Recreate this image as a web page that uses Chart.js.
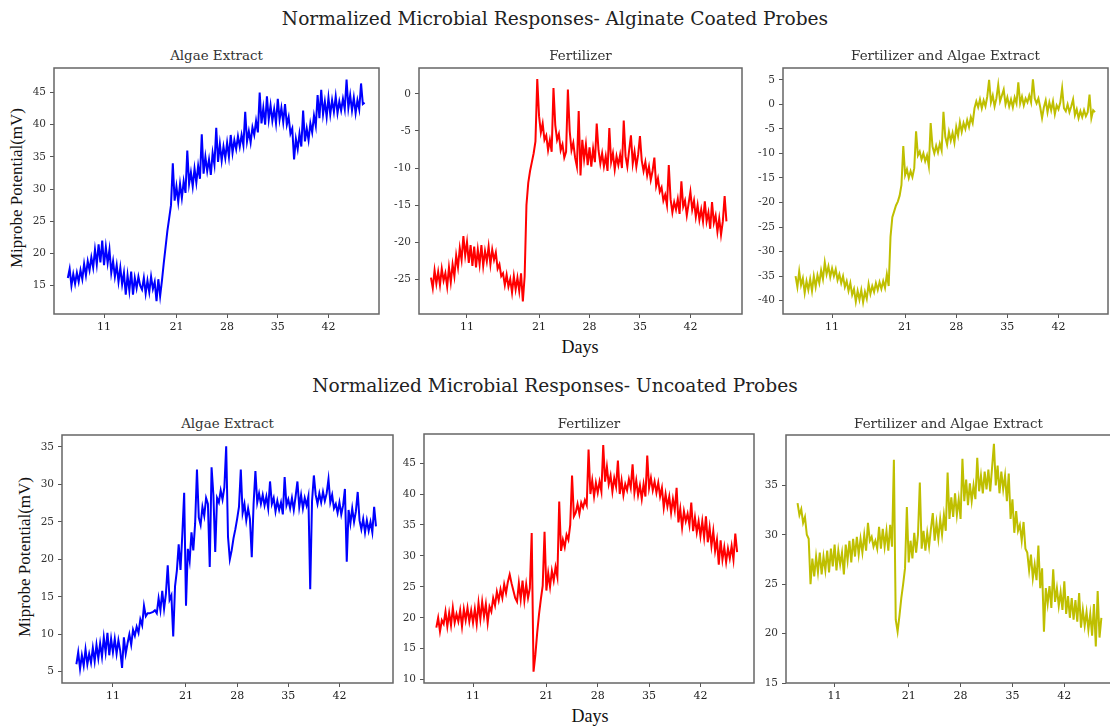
<!DOCTYPE html>
<html>
<head>
<meta charset="utf-8">
<title>Normalized Microbial Responses</title>
<script src="https://cdn.jsdelivr.net/npm/chart.js@4.4.1/dist/chart.umd.min.js"></script>
<style>
  body { margin: 0; background: #fff; overflow: hidden; }
  #page { position: relative; width: 1110px; height: 728px; overflow: hidden; background: #fff; }
  canvas { position: absolute; }
  .txt { position: absolute; transform: translate(-50%, -50%); white-space: nowrap; line-height: 1; color: #222; }
  .fig-title { font: 18.6px 'DejaVu Serif'; }
  .sub-title { font: 13.4px 'DejaVu Serif'; color: #333; }
  .axis-label { font: 18px 'Liberation Serif'; color: #111; }
  .ylab { font-size: 17px; transform: translate(-50%, -50%) rotate(-90deg); }
</style>
</head>
<body>
<div id="page">
  <div class="txt fig-title" style="left:555px;top:18px">Normalized Microbial Responses- Alginate Coated Probes</div>
  <div class="txt fig-title" style="left:555px;top:385px">Normalized Microbial Responses- Uncoated Probes</div>
  <div class="txt axis-label" style="left:580px;top:347px">Days</div>
  <div class="txt axis-label" style="left:590px;top:716px">Days</div>
  <div class="txt axis-label ylab" style="left:17px;top:188px">Miprobe Potential(mV)</div>
  <div class="txt axis-label ylab" style="left:25px;top:557px">Miprobe Potential(mV)</div>
</div>
<script>
//Sampling grid (days), 4 readings per day
const START_DAY = 6
const STEP = 0.25

//Tick labels
const dayTicks = [11, 21, 28, 35, 42]
const coatedAlgaeTicks = [15, 20, 25, 30, 35, 40, 45]
const coatedFertTicks = [-25, -20, -15, -10, -5, 0]
const coatedMixTicks = [-40, -35, -30, -25, -20, -15, -10, -5, 0, 5]
const uncoatedAlgaeTicks = [5, 10, 15, 20, 25, 30, 35]
const uncoatedFertTicks = [10, 15, 20, 25, 30, 35, 40, 45]
const uncoatedMixTicks = [15, 20, 25, 30, 35]

//Series (mV)
const coatedAlgae = [
  16.2, 17.6, 15.0, 16.8, 15.3, 17.0, 15.6, 17.4, 16.0, 18.4, 16.6, 18.8, 17.4, 19.4, 17.8, 20.6,
  18.3, 21.4, 18.6, 22.0, 18.2, 21.0, 18.5, 20.6, 17.0, 18.8, 16.4, 18.2, 15.6, 17.8, 15.2, 17.0,
  13.6, 16.6, 14.2, 17.2, 13.6, 16.2, 14.6, 16.4, 15.0, 14.4, 16.2, 13.8, 15.8, 14.0, 16.4, 14.5,
  15.6, 12.6, 16.0, 13.4, 15.8, 18.5, 21.0, 23.5, 25.5, 27.5, 34.0, 28.2, 30.4, 28.0, 30.8, 28.6,
  31.2, 29.4, 36.0, 30.8, 32.6, 30.4, 33.2, 31.0, 33.6, 31.6, 38.5, 32.4, 35.0, 32.8, 34.6, 32.2,
  35.6, 33.8, 39.5, 34.2, 37.0, 34.4, 36.6, 34.8, 37.2, 35.0, 38.4, 35.6, 37.6, 36.2, 38.2, 36.6,
  38.4, 36.8, 42.0, 37.4, 39.0, 37.2, 39.6, 38.4, 40.6, 38.8, 45.0, 40.2, 42.6, 40.0, 44.4, 40.8,
  43.0, 40.6, 42.4, 40.2, 44.0, 40.8, 42.6, 40.4, 43.2, 40.0, 41.2, 38.6, 39.4, 34.6, 37.8, 36.2,
  38.6, 36.6, 42.2, 37.4, 39.4, 37.6, 40.2, 38.8, 41.4, 39.8, 44.6, 41.0, 45.4, 41.6, 43.6, 41.2,
  44.2, 41.6, 43.8, 42.0, 44.4, 41.8, 43.6, 42.2, 44.0, 42.4, 47.0, 42.6, 44.6, 42.2, 44.2, 41.8,
  43.8, 42.4, 46.4, 43.2, 43.4
]
const coatedFert = [
  -24.8, -26.2, -23.8, -25.6, -24.0, -25.8, -23.6, -25.2, -24.2, -26.0, -23.4, -25.4, -23.0, -24.6, -21.8, -23.4,
  -20.8, -22.4, -19.2, -21.8, -20.0, -22.8, -20.4, -23.2, -20.6, -23.4, -21.0, -23.0, -20.4, -23.2, -21.2, -22.6,
  -20.6, -23.0, -21.0, -22.4, -21.4, -23.6, -23.0, -24.6, -24.2, -25.8, -24.4, -26.0, -25.0, -26.8, -24.6, -26.4,
  -24.8, -26.6, -24.2, -28.0, -24.6, -15.0, -12.0, -10.4, -9.2, -8.0, -6.4, 2.0, -3.0, -5.2, -4.0, -6.2,
  -5.6, -7.6, -6.2, -7.8, 0.8, -4.2, -6.2, -5.4, -7.6, -6.8, -8.6, -7.8, 0.6, -5.0, -7.6, -6.6,
  -8.6, -9.8, -2.3, -11.0, -6.2, -8.8, -6.8, -9.6, -7.2, -9.8, -7.4, -9.2, -4.0, -7.6, -9.4, -8.0,
  -9.8, -8.4, -10.4, -4.6, -9.2, -8.0, -10.2, -8.4, -9.6, -8.2, -10.0, -3.6, -8.4, -9.8, -7.6, -5.6,
  -9.4, -7.8, -9.8, -8.2, -5.7, -9.0, -10.4, -9.2, -11.0, -9.8, -11.6, -10.4, -8.6, -12.4, -11.4, -13.2,
  -12.6, -14.4, -13.6, -15.0, -9.6, -14.2, -16.0, -14.6, -15.6, -14.2, -16.2, -11.8, -15.2, -14.4, -16.4, -14.8,
  -13.2, -15.6, -14.4, -16.6, -15.0, -17.0, -15.6, -17.2, -14.5, -17.2, -16.0, -18.2, -14.6, -17.4, -16.4, -18.6,
  -16.8, -19.0, -17.2, -13.8, -17.2
]
const coatedMix = [
  -35.0, -37.2, -34.0, -36.8, -35.4, -38.4, -36.0, -37.8, -35.6, -38.0, -35.0, -37.2, -34.8, -36.4, -33.8, -35.6,
  -32.2, -34.6, -33.0, -35.2, -33.4, -35.0, -33.6, -35.8, -34.6, -36.4, -35.0, -37.2, -36.0, -38.0, -36.4, -38.8,
  -37.6, -40.2, -38.0, -39.8, -37.8, -40.3, -38.2, -39.6, -36.6, -38.6, -37.0, -38.2, -36.4, -37.8, -36.2, -37.6,
  -36.0, -37.4, -34.6, -37.0, -27.0, -23.0, -21.8, -20.6, -19.8, -18.6, -16.4, -8.5, -14.4, -13.2, -15.0, -13.6,
  -14.8, -13.0, -5.5, -10.4, -9.6, -11.2, -10.0, -11.6, -10.4, -12.6, -3.8, -8.6, -10.0, -8.4, -9.8, -8.0,
  -9.4, -1.5, -6.6, -8.2, -5.6, -7.4, -5.8, -7.8, -4.6, -6.4, -3.6, -5.6, -3.8, -5.0, -3.2, -4.6,
  -2.6, -3.8, -0.8, 0.6, -0.6, 1.0, -0.8, 0.8, -0.4, 1.6, 5.0, 0.4, 1.8, -0.4, 1.2, 4.0,
  0.6, 1.8, 3.0, 0.0, 1.4, -0.4, 1.0, -0.6, 1.4, 0.2, 4.5, 0.2, 1.6, -0.2, 1.2, 0.4,
  1.8, 0.4, 5.1, 1.2, 0.2, 1.2, -0.6, -2.8, -0.6, 0.8, -1.6, 0.4, -1.2, 0.6, -2.0, -0.2,
  -1.0, 0.4, 3.3, -0.8, -1.4, 0.0, -1.6, -0.4, 1.0, -2.2, -1.0, -2.8, -1.4, -2.6, -1.2, -2.4,
  -1.6, 2.0, -2.8, -1.2, -1.6
]
const uncoatedAlgae = [
  6.0, 7.6, 5.4, 7.2, 5.8, 8.0, 6.0, 7.4, 6.2, 8.2, 6.4, 8.6, 6.8, 8.8, 7.0, 9.6,
  7.6, 10.2, 7.2, 9.4, 7.6, 9.4, 7.4, 9.2, 7.8, 5.5, 9.6, 7.4, 8.8, 10.0, 8.6, 10.6,
  9.8, 11.0, 10.2, 12.0, 11.2, 13.8, 12.4, 12.8, 12.8, 12.9, 13.0, 13.2, 12.8, 14.8, 13.2, 15.8,
  13.4, 15.4, 19.2, 14.6, 15.2, 9.7, 16.4, 18.5, 22.0, 18.6, 23.4, 28.9, 13.8, 21.4, 19.8, 23.6,
  21.2, 24.8, 32.0, 25.6, 24.6, 27.0, 25.8, 28.2, 27.4, 19.0, 32.3, 28.6, 21.0, 28.2, 27.6, 29.2,
  28.0, 29.6, 35.1, 23.0, 20.0, 21.2, 22.8, 24.0, 25.4, 27.0, 32.0, 26.2, 27.4, 25.2, 26.8, 25.4,
  20.3, 27.4, 31.8, 27.6, 28.8, 27.4, 28.6, 27.2, 28.4, 26.8, 30.4, 27.4, 28.2, 26.4, 27.8, 26.6,
  27.6, 26.0, 31.0, 27.2, 28.0, 26.8, 28.2, 26.6, 28.4, 30.4, 27.0, 28.6, 26.8, 28.2, 27.2, 28.4,
  16.0, 27.8, 31.2, 28.6, 27.4, 28.8, 27.6, 29.0, 27.8, 28.8, 30.7, 27.6, 28.6, 26.8, 27.4, 26.2,
  27.6, 26.0, 27.2, 29.4, 19.7, 26.6, 24.8, 26.8, 25.0, 26.4, 29.0, 25.2, 24.0, 25.4, 23.6, 25.2,
  23.8, 25.0, 23.6, 27.0, 24.4
]
const uncoatedFert = [
  18.4, 20.0, 17.8, 19.6, 19.0, 21.0, 18.6, 20.8, 18.8, 21.6, 19.2, 20.6, 19.4, 21.2, 18.6, 21.4,
  19.6, 21.6, 19.4, 21.2, 19.2, 21.4, 19.0, 22.4, 19.8, 22.6, 20.2, 22.2, 19.2, 21.8, 21.0, 23.2,
  22.0, 24.2, 22.8, 24.6, 23.2, 25.4, 24.0, 25.8, 27.0, 25.6, 24.4, 23.2, 22.6, 25.6, 23.0, 26.0,
  22.8, 25.4, 23.2, 24.8, 33.7, 11.3, 14.0, 17.6, 20.6, 23.0, 25.2, 33.9, 24.4, 27.2, 25.0, 27.6,
  26.0, 28.2, 26.6, 38.8, 30.8, 32.6, 31.4, 33.4, 32.6, 35.0, 43.0, 36.4, 37.0, 38.4, 36.8, 38.6,
  37.8, 39.0, 38.2, 47.2, 40.0, 42.2, 39.6, 41.8, 40.2, 42.0, 40.4, 47.9, 42.0, 44.4, 41.6, 43.0,
  40.4, 42.6, 41.2, 45.4, 40.0, 42.2, 39.8, 41.6, 40.6, 42.4, 41.0, 44.8, 40.2, 42.2, 39.8, 41.4,
  39.2, 41.6, 39.6, 46.2, 41.0, 42.6, 40.6, 42.0, 40.2, 41.8, 39.6, 41.0, 37.8, 40.0, 38.0, 39.6,
  37.0, 39.2, 37.4, 41.0, 35.4, 37.6, 34.6, 37.2, 35.6, 36.8, 35.0, 38.6, 34.0, 36.2, 33.8, 35.6,
  33.2, 35.6, 33.0, 36.4, 32.2, 34.6, 31.6, 34.0, 30.8, 32.6, 28.6, 32.5, 29.4, 31.4, 29.0, 31.2,
  29.6, 31.6, 29.4, 33.6, 30.6
]
const uncoatedMix = [
  33.2, 32.0, 32.6, 31.2, 31.8, 30.0, 29.6, 25.0, 27.6, 25.8, 27.8, 26.2, 28.2, 26.0, 27.8, 26.4,
  28.4, 26.2, 28.6, 26.8, 29.0, 26.4, 28.4, 27.0, 28.2, 26.0, 29.0, 27.4, 29.4, 27.2, 29.6, 27.8,
  29.8, 28.0, 29.6, 28.2, 30.0, 28.4, 31.2, 29.4, 29.8, 28.8, 29.4, 28.6, 30.8, 28.6, 30.6, 28.8,
  30.4, 28.4, 31.0, 28.8, 37.6, 21.4, 20.2, 21.8, 23.6, 25.0, 26.6, 32.8, 27.2, 29.4, 27.6, 30.2,
  28.2, 30.0, 35.3, 28.6, 30.4, 28.4, 30.2, 28.8, 30.6, 32.2, 29.4, 31.2, 29.6, 31.6, 30.0, 32.0,
  30.4, 36.3, 31.6, 33.8, 31.8, 34.2, 32.0, 33.6, 31.6, 37.7, 33.4, 35.6, 33.0, 35.2, 33.4, 35.0,
  33.6, 37.8, 34.4, 36.0, 34.2, 36.4, 34.6, 36.6, 34.4, 36.8, 39.2, 35.0, 37.0, 34.2, 36.4, 34.6,
  36.0, 33.4, 36.2, 31.6, 33.6, 30.2, 32.4, 30.4, 31.0, 29.4, 31.3, 28.6, 28.2, 26.4, 28.0, 25.6,
  27.0, 25.4, 28.9, 24.6, 26.6, 20.2, 24.6, 23.0, 24.8, 22.6, 26.5, 23.2, 24.6, 22.8, 24.2, 22.4,
  25.3, 22.0, 23.8, 21.6, 23.6, 21.4, 23.4, 21.2, 24.1, 20.6, 22.4, 20.8, 22.2, 20.4, 22.0, 19.8,
  23.0, 18.7, 24.3, 19.6, 21.6
]

//Layout
const Y_AXIS_W = 44
const X_AXIS_H = 30
const page = document.getElementById('page')

Chart.defaults.font.family = "'DejaVu Serif', serif"
Chart.defaults.color = '#333'

//Draw the full box around each plot area
const frameBox = {
  id: 'frameBox',
  afterDraw(chart) {
    const { ctx, chartArea: a } = chart
    ctx.save()
    ctx.strokeStyle = '#666'
    ctx.lineWidth = 1.5
    ctx.strokeRect(a.left, a.top, a.right - a.left, a.bottom - a.top)
    ctx.restore()
  }
}

function toPoints(values) {
  return values.map((v, i) => ({ x: START_DAY + i * STEP, y: v }))
}

function addText(cls, text, x, y) {
  let el = document.createElement('div')
  el.className = 'txt ' + cls
  el.style.left = x + 'px'
  el.style.top = y + 'px'
  el.textContent = text
  page.appendChild(el)
}

function buildPanel(p) {
  const [L, T, R, B] = p.frame
  let canvas = document.createElement('canvas')
  canvas.width = R - L + Y_AXIS_W + 1
  canvas.height = B - T + X_AXIS_H + 1
  canvas.style.left = (L - Y_AXIS_W) + 'px'
  canvas.style.top = (T - 1) + 'px'
  page.appendChild(canvas)

  addText('sub-title', p.title, (L + R) / 2, p.titleY)

  new Chart(canvas.getContext('2d'), {
    type: 'line',
    data: {
      datasets: [{
        data: toPoints(p.values),
        borderColor: p.color,
        borderWidth: 2,
        pointRadius: 0,
        tension: 0,
        fill: false
      }]
    },
    options: {
      responsive: false,
      animation: false,
      devicePixelRatio: 1,
      layout: { padding: { top: 1, right: 1, left: 0, bottom: 0 } },
      plugins: { legend: { display: false }, tooltip: { enabled: false } },
      scales: {
        x: {
          type: 'linear',
          min: p.xmin,
          max: p.xmax,
          afterBuildTicks: (s) => { s.ticks = dayTicks.map(v => ({ value: v })) },
          afterFit: (s) => { s.height = X_AXIS_H; s.paddingLeft = 0; s.paddingRight = 0 },
          grid: { drawOnChartArea: false, drawTicks: true, tickLength: 4, color: '#555' },
          border: { display: false },
          ticks: { padding: 3, font: { size: 11 }, color: '#222', maxRotation: 0 }
        },
        y: {
          min: p.ymin,
          max: p.ymax,
          afterBuildTicks: (s) => { s.ticks = p.yticks.map(v => ({ value: v })) },
          afterFit: (s) => { s.width = Y_AXIS_W; s.paddingTop = 0; s.paddingBottom = 0 },
          grid: { drawOnChartArea: false, drawTicks: true, tickLength: 4, color: '#555' },
          border: { display: false },
          ticks: { padding: 4, font: { size: 10.5 }, color: '#333' }
        }
      }
    },
    plugins: [frameBox]
  })
}

//Panels
const panels = [
  { title: 'Algae Extract', values: coatedAlgae, color: '#0000ff', frame: [54, 68, 379, 314], titleY: 55,
    xmin: 4.09, xmax: 48.98, ymin: 10.6, ymax: 48.8, yticks: coatedAlgaeTicks },
  { title: 'Fertilizer', values: coatedFert, color: '#ff0000', frame: [419, 68, 742, 314], titleY: 55,
    xmin: 4.34, xmax: 49.16, ymin: -29.7, ymax: 3.5, yticks: coatedFertTicks },
  { title: 'Fertilizer and Algae Extract', values: coatedMix, color: '#bfbf00', frame: [783, 68, 1108, 314], titleY: 55,
    xmin: 4.28, xmax: 48.78, ymin: -42.7, ymax: 7.4, yticks: coatedMixTicks },
  { title: 'Algae Extract', values: uncoatedAlgae, color: '#0000ff', frame: [62, 435, 393, 683], titleY: 423,
    xmin: 4.03, xmax: 49.33, ymin: 3.5, ymax: 36.6, yticks: uncoatedAlgaeTicks },
  { title: 'Fertilizer', values: uncoatedFert, color: '#ff0000', frame: [424, 434, 754, 683], titleY: 423,
    xmin: 4.32, xmax: 49.3, ymin: 9.46, ymax: 49.7, yticks: uncoatedFertTicks },
  { title: 'Fertilizer and Algae Extract', values: uncoatedMix, color: '#bfbf00', frame: [786, 435, 1111, 683], titleY: 423,
    xmin: 4.44, xmax: 48.3, ymin: 15, ymax: 40.1, yticks: uncoatedMixTicks }
]

panels.forEach(buildPanel)
</script>
</body>
</html>
